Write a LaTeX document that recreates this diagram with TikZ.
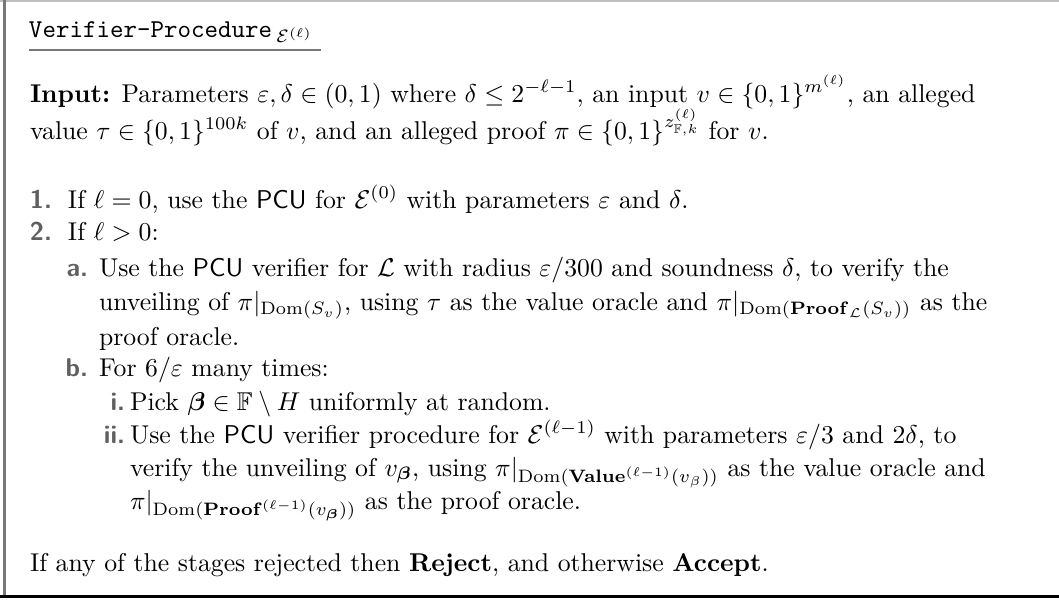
\documentclass[tikz,border=0pt]{standalone}
\usepackage{amsmath,amssymb}
\usepackage{bm}
\definecolor{lblgray}{RGB}{95,95,95}
\definecolor{rulegray}{RGB}{120,120,120}
\definecolor{topgray}{RGB}{190,190,190}
\tikzset{
  txt/.style={anchor=base west, inner sep=0pt, outer sep=0pt},
  lbl/.style={anchor=base east, inner sep=0pt, outer sep=0pt, text=lblgray, font=\sffamily\bfseries},
}
\begin{document}
\begin{tikzpicture}[x=0.3887pt, y=-0.3887pt]
\useasboundingbox (0,0) rectangle (1059,601);
% frame
\draw[topgray, line width=1.2] (0,0.8) -- (1059,0.8);
\draw[rulegray, line width=1.0] (4.5,0) -- (4.5,597);
\draw[black, line width=1.4] (0,596.5) -- (1059,596.5);
% title
\node[txt] (title) at (29,37) {\texttt{Verifier-Procedure}\,$_{\mathcal{E}^{(\ell)}}$};
\coordinate (ulA) at (29,50);
\coordinate (ulB) at (321,50);
\draw[rulegray, line width=1.0] (ulA) -- (ulB);
% input
\node[txt] (in1) at (30,102) {\textbf{Input:} Parameters $\varepsilon,\delta\in(0,1)$ where $\delta\le 2^{-\ell-1}$, an input $v\in\{0,1\}^{m^{(\ell)}}$, an alleged};
\node[txt] (in2) at (30,139) {value $\tau\in\{0,1\}^{100k}$ of $v$, and an alleged proof $\pi\in\{0,1\}^{z^{(\ell)}_{\mathbb{F},k}}$ for $v$.};
% items
\node[lbl] (l1) at (52,208) {1.};
\node[txt] (t1) at (68,208) {If $\ell=0$, use the \textsf{PCU} for $\mathcal{E}^{(0)}$ with parameters $\varepsilon$ and $\delta$.};
\node[lbl] (l2) at (52,240) {2.};
\node[txt] (t2) at (68,240) {If $\ell>0$:};
\node[lbl] (la) at (88,276) {a.};
\node[txt] (ta1) at (99,276) {Use the \textsf{PCU} verifier for $\mathcal{L}$ with radius $\varepsilon/300$ and soundness $\delta$, to verify the};
\node[txt] (ta2) at (99,310) {unveiling of $\pi|_{\mathrm{Dom}(S_v)}$, using $\tau$ as the value oracle and $\pi|_{\mathrm{Dom}(\mathbf{Proof}_{\mathcal{L}}(S_v))}$ as the};
\node[txt] (ta3) at (99,345) {proof oracle.};
\node[lbl] (lb) at (88,376) {b.};
\node[txt] (tb) at (99,376) {For $6/\varepsilon$ many times:};
\node[lbl] (li) at (125,410) {i.};
\node[txt] (ti) at (130,410) {Pick $\bm{\beta}\in\mathbb{F}\setminus H$ uniformly at random.};
\node[lbl] (lii) at (125,443) {ii.};
\node[txt] (tii1) at (130,443) {Use the \textsf{PCU} verifier procedure for $\mathcal{E}^{(\ell-1)}$ with parameters $\varepsilon/3$ and $2\delta$, to};
\node[txt] (tii2) at (130,476) {verify the unveiling of $v_{\bm{\beta}}$, using $\pi|_{\mathrm{Dom}(\mathbf{Value}^{(\ell-1)}(v_\beta))}$ as the value oracle and};
\node[txt] (tii3) at (130,509) {$\pi|_{\mathrm{Dom}(\mathbf{Proof}^{(\ell-1)}(v_{\bm{\beta}}))}$ as the proof oracle.};
% final
\node[txt] (fin) at (30,571) {If any of the stages rejected then \textbf{Reject}, and otherwise \textbf{Accept}.};
\end{tikzpicture}
\end{document}
